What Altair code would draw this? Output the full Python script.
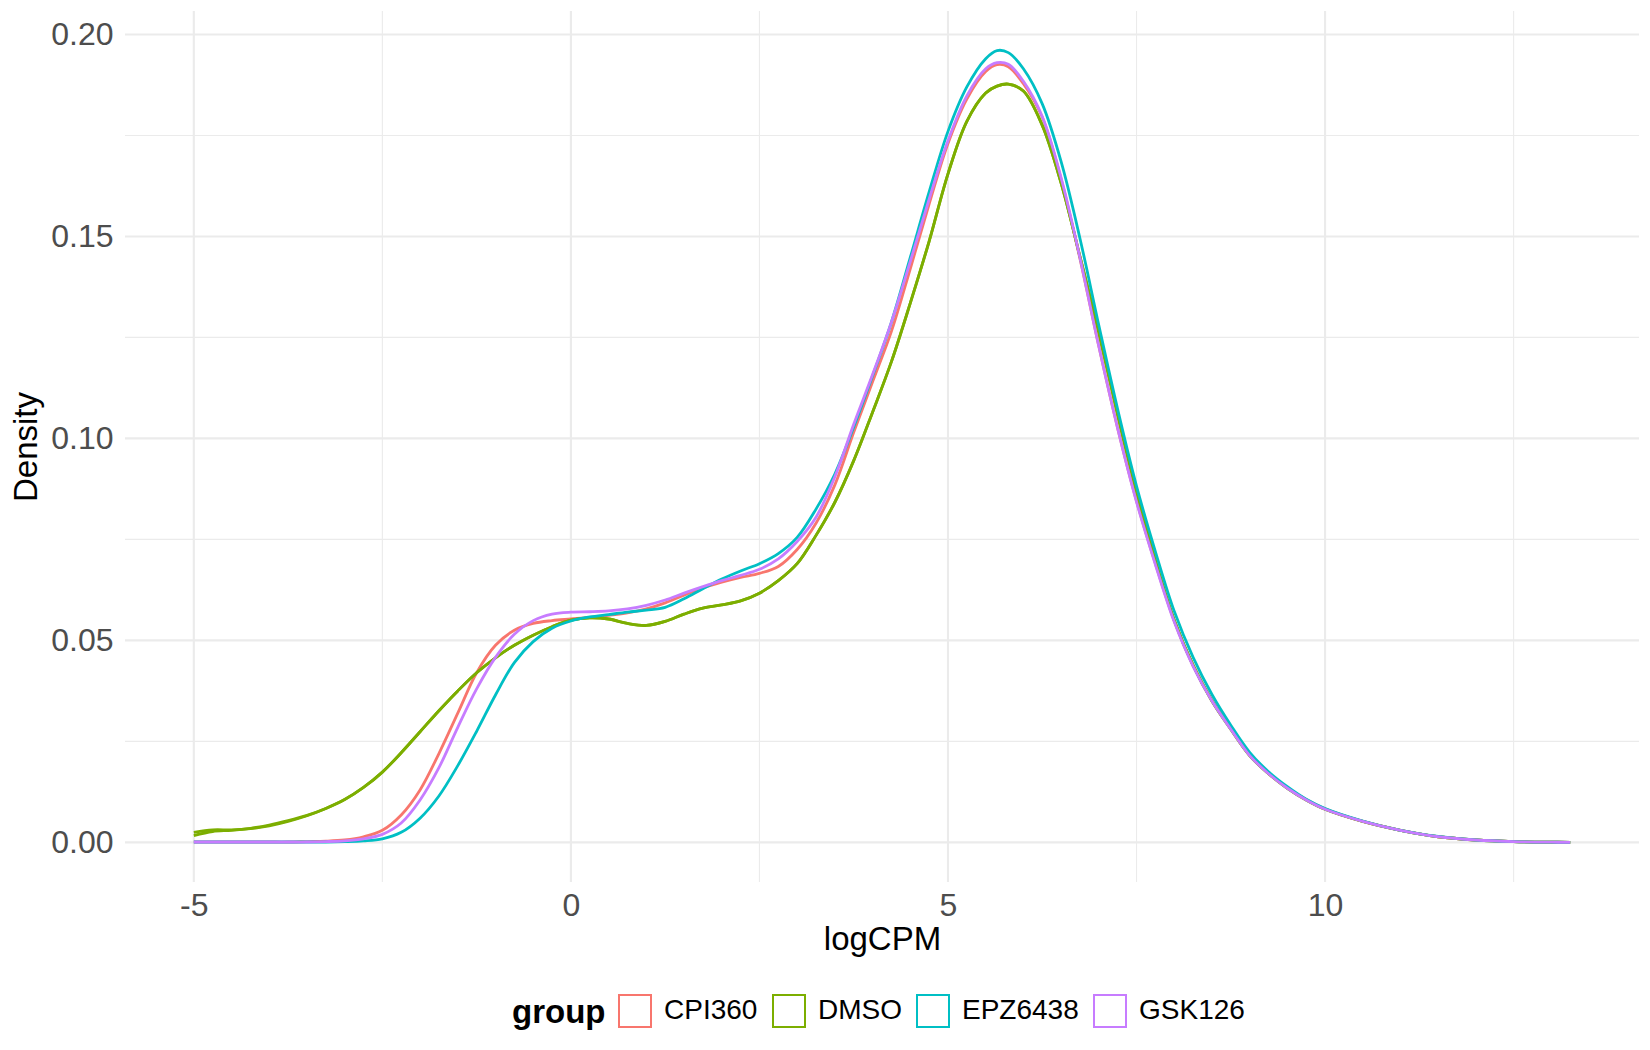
import altair as alt
import pandas as pd

# ---- data ----
X = [-5, -4.75, -4.5, -4.25, -4, -3.75, -3.5, -3.25, -3, -2.75,
     -2.5, -2.25, -2, -1.75, -1.5, -1.25, -1, -0.75, -0.5, -0.25,
     0, 0.25, 0.5, 0.75, 1, 1.25, 1.5, 1.75, 2, 2.25,
     2.5, 2.75, 3, 3.25, 3.5, 3.75, 4, 4.25, 4.5, 4.75,
     5, 5.25, 5.5, 5.65, 5.8,
     6, 6.25, 6.5, 6.75, 7, 7.25, 7.5, 7.75, 8, 8.25,
     8.5, 8.75, 9, 9.25, 9.5, 9.75, 10,
     10.5, 11, 11.5, 12, 12.5, 13, 13.25]

CPI360 = [0.0001, 0.0001, 0.0001, 0.0001, 0.0001, 0.0001, 0.0002, 0.0003, 0.0006, 0.0014,
          0.003, 0.0068, 0.013, 0.022, 0.032, 0.042, 0.0488, 0.0525, 0.0542, 0.0549,
          0.0553, 0.0557, 0.0562, 0.0568, 0.0578, 0.0593, 0.0612, 0.063, 0.0644, 0.0656,
          0.0666, 0.0683, 0.0725, 0.079, 0.0885, 0.1015, 0.114, 0.1265, 0.142, 0.158,
          0.173, 0.184, 0.1908, 0.1925, 0.192,
          0.1878, 0.1795, 0.1642, 0.1445, 0.1228, 0.1025, 0.0845, 0.069, 0.0548, 0.0438,
          0.0352, 0.0282, 0.0216, 0.0171, 0.0135, 0.0106, 0.0083,
          0.0052, 0.003, 0.0014, 0.0006, 0.0002, 0.00005, 0.00002]

DMSO_1 = [0.0025, 0.0031, 0.0031, 0.0034, 0.0041, 0.0052, 0.0066, 0.0084, 0.0106, 0.0136,
          0.0174, 0.0222, 0.0274, 0.0326, 0.0375, 0.042, 0.0457, 0.0488, 0.0513, 0.0534,
          0.055, 0.0556, 0.0553, 0.0542, 0.0537, 0.0547, 0.0565, 0.058, 0.0588, 0.0598,
          0.0617, 0.0648, 0.069, 0.076, 0.0842, 0.0945, 0.1065, 0.119, 0.1335, 0.1488,
          0.1655, 0.1785, 0.1855, 0.1872, 0.1877,
          0.186, 0.1775, 0.1632, 0.145, 0.1262, 0.1058, 0.0868, 0.0698, 0.055, 0.0438,
          0.035, 0.028, 0.0215, 0.017, 0.0134, 0.0105, 0.0082,
          0.0052, 0.003, 0.0014, 0.0006, 0.0002, 0.00005, 0.00002]

DMSO_2 = [0.0017, 0.0027, 0.0030, 0.0035, 0.0043, 0.0054, 0.0067, 0.0084, 0.0106, 0.0136,
          0.0174, 0.0222, 0.0274, 0.0326, 0.0375, 0.042, 0.0457, 0.0488, 0.0513, 0.0534,
          0.055, 0.0556, 0.0553, 0.0542, 0.0537, 0.0547, 0.0565, 0.058, 0.0588, 0.0598,
          0.0617, 0.0648, 0.069, 0.076, 0.0842, 0.0945, 0.1065, 0.119, 0.1335, 0.1488,
          0.1655, 0.1785, 0.1855, 0.1872, 0.1877,
          0.186, 0.1775, 0.1632, 0.145, 0.1262, 0.1058, 0.0868, 0.0698, 0.055, 0.0438,
          0.035, 0.028, 0.0215, 0.017, 0.0134, 0.0105, 0.0082,
          0.0052, 0.003, 0.0014, 0.0006, 0.0002, 0.00005, 0.00002]

EPZ6438 = [0.0001, 0.0001, 0.0001, 0.0001, 0.0001, 0.0001, 0.0001, 0.0001, 0.0002, 0.0004,
           0.0009, 0.0025, 0.006, 0.0115, 0.019, 0.0275, 0.0365, 0.0445, 0.0497, 0.053,
           0.0548, 0.0558, 0.0564, 0.057, 0.0575, 0.0582, 0.0603, 0.0628, 0.0652, 0.0672,
           0.069, 0.0715, 0.0755, 0.0825, 0.0912, 0.1028, 0.1155, 0.1288, 0.1448, 0.161,
           0.176, 0.187, 0.194, 0.196, 0.1955,
           0.1915, 0.1828, 0.1685, 0.1495, 0.128, 0.1072, 0.0882, 0.072, 0.0572, 0.0458,
           0.0366, 0.029, 0.0223, 0.0175, 0.0138, 0.0107, 0.0084,
           0.0053, 0.003, 0.0015, 0.0006, 0.0002, 0.00005, 0.00002]

GSK126 = [0.0001, 0.0001, 0.0001, 0.0001, 0.0001, 0.0001, 0.0001, 0.0002, 0.0004, 0.0009,
          0.002, 0.0048, 0.0105, 0.0185, 0.0285, 0.038, 0.0458, 0.0515, 0.0549, 0.0565,
          0.057, 0.0571, 0.0573, 0.0578, 0.0587, 0.06, 0.0617, 0.0633, 0.0648, 0.0661,
          0.0676, 0.0702, 0.0745, 0.0805, 0.0905, 0.1035, 0.1158, 0.1288, 0.1438, 0.1592,
          0.1737, 0.1848, 0.1915, 0.193, 0.1926,
          0.1884, 0.1797, 0.1645, 0.1447, 0.1228, 0.1025, 0.0843, 0.0688, 0.0546, 0.0436,
          0.035, 0.028, 0.0215, 0.017, 0.0134, 0.0105, 0.0082,
          0.0052, 0.003, 0.0014, 0.0006, 0.0002, 0.00005, 0.00002]

GROUPS = ["CPI360", "DMSO", "EPZ6438", "GSK126"]
COLORS = ["#F8766D", "#7CAE00", "#00BFC4", "#C77CFF"]

X_MAJOR = [-5, 0, 5, 10]
X_MINOR = [-2.5, 2.5, 7.5, 12.5]
Y_MAJOR = [0, 0.05, 0.10, 0.15, 0.20]
Y_MINOR = [0.025, 0.075, 0.125, 0.175]

X_DOMAIN = [-5.9125, 14.1625]
Y_DOMAIN = [-0.0098, 0.2058]

series = [
    ("CPI360", "CPI360", CPI360),
    ("DMSO_1", "DMSO", DMSO_1),
    ("DMSO_2", "DMSO", DMSO_2),
    ("EPZ6438", "EPZ6438", EPZ6438),
    ("GSK126", "GSK126", GSK126),
]
rows = []
for sample, group, vals in series:
    for x, y in zip(X, vals):
        rows.append({"sample": sample, "group": group, "logCPM": x, "Density": y})
df = pd.DataFrame(rows)

FONT = "Liberation Sans"
xscale = alt.Scale(domain=X_DOMAIN, nice=False, zero=False)
yscale = alt.Scale(domain=Y_DOMAIN, nice=False, zero=False)

def vgrid(vals, w):
    return alt.Chart(pd.DataFrame({"logCPM": vals})).mark_rule(
        color="#EBEBEB", strokeWidth=w
    ).encode(x=alt.X("logCPM:Q", scale=xscale))

def hgrid(vals, w):
    return alt.Chart(pd.DataFrame({"Density": vals})).mark_rule(
        color="#EBEBEB", strokeWidth=w
    ).encode(y=alt.Y("Density:Q", scale=yscale))

lines = alt.Chart(df).mark_line(strokeWidth=2.8, interpolate="catmull-rom").encode(
    x=alt.X("logCPM:Q", scale=xscale,
            axis=alt.Axis(values=X_MAJOR, grid=False, domain=False, ticks=False, tickSize=0,
                          labelFontSize=32, labelColor="#4D4D4D", labelFont=FONT,
                          labelPadding=8, titleFontSize=33, titleFont=FONT,
                          titleColor="black", titleFontWeight="normal", titlePadding=2,
                          labelExpr="toString(datum.value)")),
    y=alt.Y("Density:Q", scale=yscale,
            axis=alt.Axis(values=Y_MAJOR, grid=False, domain=False, ticks=False, tickSize=0,
                          labelFontSize=32, labelColor="#4D4D4D", labelFont=FONT,
                          labelPadding=12, titleFontSize=33, titleFont=FONT,
                          titleColor="black", titleFontWeight="normal", titlePadding=7,
                          format=".2f")),
    color=alt.Color("group:N", scale=alt.Scale(domain=GROUPS, range=COLORS),
                    legend=alt.Legend(orient="none", legendX=387, legendY=983,
                                      direction="horizontal", titleOrient="left",
                                      symbolType="square", symbolSize=1024,
                                      symbolStrokeWidth=2, labelFontSize=28,
                                      labelFont=FONT, labelColor="black",
                                      titleFontSize=33, titleFont=FONT,
                                      titleFontWeight="bold", titleColor="black",
                                      titlePadding=12, labelOffset=12, columnPadding=11)),
    detail="sample:N",
)

chart = alt.layer(
    vgrid(X_MINOR, 1.1), hgrid(Y_MINOR, 1.1),
    vgrid(X_MAJOR, 2.1), hgrid(Y_MAJOR, 2.1),
    lines,
).properties(
    width=1514, height=871,
    autosize=alt.AutoSizeParams(type="none"),
    padding={"left": 117, "top": 3, "right": 3, "bottom": 152},
).configure_view(stroke=None)

chart.save("out.html", embed_options={"renderer": "svg", "actions": False})
